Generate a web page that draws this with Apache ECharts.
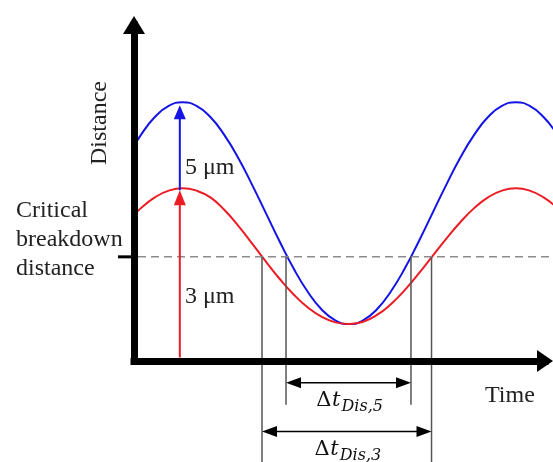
<!DOCTYPE html>
<html>
<head>
<meta charset="utf-8">
<script src="https://cdn.jsdelivr.net/npm/echarts@6/dist/echarts.min.js"></script>
<style>
html,body{margin:0;padding:0;background:#fff;}
#chart{width:553px;height:462px;}
</style>
</head>
<body>
<div id="chart"></div>
<script>
// ---- data (arbitrary time / distance units) ----
const timeSamples = [-0.5, 0.5, 1.5, 2.5, 3.5, 4.5, 5.5, 6.5, 7.5, 8.5, 9.5, 10.5, 11.5, 12.5, 13.5, 14.5, 15.5,
  16.5, 17.5, 18.5, 19.5, 20.5, 21.5, 22.5, 23.5, 24.5, 25.5, 26.5, 27.5, 28.5, 29.5, 30.5];
const distance5um = [60.5, 67.3, 72.6, 75.9, 77.0, 75.9, 72.6, 67.3, 60.5, 52.5, 44.0, 35.5, 27.5, 20.7, 15.4, 12.1, 11.0,
  12.1, 15.4, 20.7, 27.5, 35.5, 44.0, 52.5, 60.5, 67.3, 72.6, 75.9, 77.0, 75.9, 72.6, 67.3];
const distance3um = [41.3, 45.5, 48.7, 50.7, 51.4, 50.7, 48.7, 45.0, 40.3, 35.0, 29.6, 24.4, 19.8, 16.0, 13.2, 11.5, 11.0,
  11.7, 13.7, 16.9, 21.1, 26.0, 31.2, 36.4, 41.3, 45.5, 48.7, 50.7, 51.4, 50.7, 48.7, 45.5];
const criticalDistance = 31;
const crossings5um = [10.95, 19.95];
const crossings3um = [9.22, 21.43];
const amplitudeArrowTime = 3.3;
const peak3um = 51.4;
const peak5um = 77.0;
const dimLevel5 = -6.5;
const dimLevel3 = -21.0;
const timeRange = [0, 30.18];
const distanceRange = [0, 100];
const labelTexts = {
  yName: 'Distance', xName: 'Time', critical: 'Critical\nbreakdown\ndistance',
  amp5: '5 μm', amp3: '3 μm', delta: 'Δ', t: 't', sub5: 'Dis,5', sub3: 'Dis,3'
};

const pairs = (xs, ys) => xs.map((x, i) => [x, ys[i]]);
const BLUE = '#1414e6', RED = '#ec1c24', SERIF = 'Liberation Serif, Times New Roman, serif';
const MATH = 'DejaVu Serif, serif';

function renderAnnotations(params, api) {
  const c = (t, d) => api.coord([t, d]);
  const ch = [];
  const line = (p1, p2, style) => ch.push({type: 'line', shape: {x1: p1[0], y1: p1[1], x2: p2[0], y2: p2[1]}, style});
  const head = (tip, dx, dy, len, half, color) => {
    const bx = tip[0] - dx * len, by = tip[1] - dy * len, nx = -dy, ny = dx;
    ch.push({type: 'polygon', shape: {points: [[tip[0], tip[1]], [bx + nx * half, by + ny * half], [bx - nx * half, by - ny * half]]}, style: {fill: color}});
  };
  // critical breakdown distance line and tick
  const pc0 = c(0, criticalDistance);
  const pc1 = c(timeRange[1], criticalDistance);
  line([pc0[0] + 4, pc0[1]], pc1, {stroke: '#8c8c8c', lineWidth: 1.5, lineDash: [8, 5]});
  line([pc0[0] - 16, pc0[1]], [pc0[0] - 3, pc0[1]], {stroke: '#000', lineWidth: 3});
  // vertical extension lines
  crossings5um.forEach(t => line(c(t, criticalDistance), [c(t, 0)[0], c(t, dimLevel5)[1] + 22], {stroke: '#555', lineWidth: 1.5}));
  crossings3um.forEach(t => line(c(t, criticalDistance), [c(t, 0)[0], c(t, dimLevel3)[1] + 40], {stroke: '#555', lineWidth: 1.5}));
  // dimension arrows + labels
  [[crossings5um, dimLevel5, labelTexts.sub5], [crossings3um, dimLevel3, labelTexts.sub3]].forEach(([cr, lvl, sub]) => {
    const a = c(cr[0], lvl), b = c(cr[1], lvl);
    line([a[0] + 10, a[1]], [b[0] - 10, b[1]], {stroke: '#000', lineWidth: 1.5});
    head(a, -1, 0, 15, 5.5, '#000');
    head(b, 1, 0, 15, 5.5, '#000');
    const cx = (a[0] + b[0]) / 2 + 1, split = cx - 9, y = a[1] + 18;
    ch.push({type: 'text', x: split - 9, y: y, style: {text: labelTexts.delta, font: '21px ' + MATH, fill: '#111', align: 'right', verticalAlign: 'middle'}});
    ch.push({type: 'text', x: split, y: y, style: {text: labelTexts.t, font: 'italic 21px ' + MATH, fill: '#111', align: 'right', verticalAlign: 'middle'}});
    ch.push({type: 'text', x: split + 1, y: y + 6, style: {text: sub, font: 'italic 16px ' + MATH, fill: '#111', align: 'left', verticalAlign: 'middle'}});
  });
  // amplitude arrows
  const base = c(amplitudeArrowTime, 0);
  const r = c(amplitudeArrowTime, peak3um);
  const bl = c(amplitudeArrowTime, peak5um);
  line([base[0], base[1] - 3.5], [r[0], r[1] + 12], {stroke: RED, lineWidth: 2});
  head([r[0], r[1] + 2], 0, -1, 15, 6, RED);
  line([r[0], r[1] + 2], [bl[0], bl[1] + 12], {stroke: BLUE, lineWidth: 2});
  head([bl[0], bl[1] + 3], 0, -1, 14, 6, BLUE);
  return {type: 'group', children: ch};
}

const hiddenAxis = {show: false};
const chart = echarts.init(document.getElementById('chart'));
chart.setOption({
  animation: false,
  backgroundColor: '#fff',
  grid: [
    {left: 134, right: 8, top: 25, bottom: 101},   // visible axes with arrow heads
    {left: 134, right: 0, top: 25, bottom: 101}    // plotting area reaching the right edge
  ],
  xAxis: [
    {
      gridIndex: 0, type: 'value', min: 0, max: 1,
      axisLine: {show: true, onZero: false, symbol: ['none', 'triangle'], symbolSize: [22, 16],
        lineStyle: {color: '#000', width: 7, cap: 'square'}},
      axisTick: {show: false}, axisLabel: {show: false}, splitLine: {show: false}, z: 5
    },
    Object.assign({gridIndex: 1, type: 'value', min: timeRange[0], max: timeRange[1]}, hiddenAxis)
  ],
  yAxis: [
    {
      gridIndex: 0, type: 'value', min: 0, max: 1,
      axisLine: {show: true, onZero: false, symbol: ['none', 'triangle'], symbolSize: [22, 18],
        lineStyle: {color: '#000', width: 7, cap: 'square'}},
      axisTick: {show: false}, axisLabel: {show: false}, splitLine: {show: false}, z: 5
    },
    Object.assign({gridIndex: 1, type: 'value', min: distanceRange[0], max: distanceRange[1]}, hiddenAxis)
  ],
  series: [
    {type: 'line', name: '5 μm', xAxisIndex: 1, yAxisIndex: 1, data: pairs(timeSamples, distance5um),
      smooth: 0.5, showSymbol: false, clip: true, lineStyle: {color: BLUE, width: 2}, z: 3},
    {type: 'line', name: '3 μm', xAxisIndex: 1, yAxisIndex: 1, data: pairs(timeSamples, distance3um),
      smooth: 0.5, showSymbol: false, clip: true, lineStyle: {color: RED, width: 2}, z: 3},
    {type: 'custom', xAxisIndex: 1, yAxisIndex: 1, data: [[0, 0]], renderItem: renderAnnotations,
      clip: false, silent: true, z: 4}
  ],
  graphic: [
    {type: 'text', x: 100, y: 123, rotation: Math.PI / 2,
      style: {text: labelTexts.yName, font: '24px ' + SERIF, fill: '#222', align: 'center', verticalAlign: 'middle'}},
    {type: 'text', x: 16, y: 240,
      style: {text: labelTexts.critical, font: '24px ' + SERIF, lineHeight: 29, fill: '#222', align: 'left', verticalAlign: 'middle'}},
    {type: 'text', x: 485, y: 396,
      style: {text: labelTexts.xName, font: '24px ' + SERIF, fill: '#222', align: 'left', verticalAlign: 'middle'}},
    {type: 'text', x: 185, y: 168,
      style: {text: labelTexts.amp5, font: '24px ' + SERIF, fill: '#222', align: 'left', verticalAlign: 'middle'}},
    {type: 'text', x: 185, y: 297,
      style: {text: labelTexts.amp3, font: '24px ' + SERIF, fill: '#222', align: 'left', verticalAlign: 'middle'}}
  ]
});
</script>
</body>
</html>
